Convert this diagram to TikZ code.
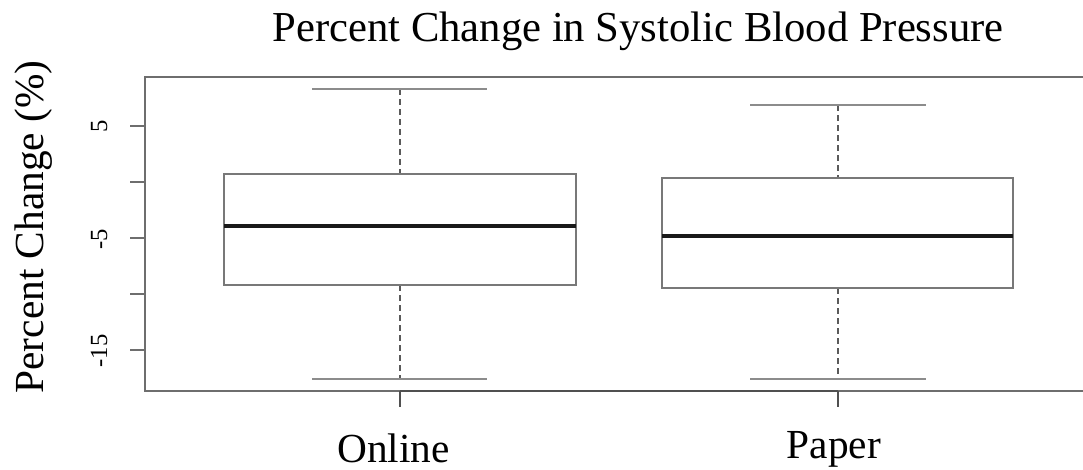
\documentclass[tikz,border=0pt]{standalone}
\usepackage{fontspec}
\setmainfont{Liberation Serif}
\begin{document}
\begin{tikzpicture}[x=0.75pt,y=-0.75pt,
  framel/.style={draw={rgb,255:red,110;green,110;blue,110},line width=1.3pt},
  axisl/.style={draw={rgb,255:red,80;green,80;blue,80},line width=1.3pt},
  capl/.style={draw={rgb,255:red,140;green,140;blue,140},line width=1.8pt},
  boxl/.style={draw={rgb,255:red,120;green,120;blue,120},line width=1.3pt},
  medl/.style={draw={rgb,255:red,25;green,25;blue,25},line width=2.4pt},
  whiskl/.style={draw={rgb,255:red,90;green,90;blue,90},line width=0.8pt,dash pattern=on 4.5pt off 3pt},
  titlefont/.style={font=\fontsize{32}{36}\selectfont,inner sep=0pt},
  labfont/.style={font=\fontsize{31}{35}\selectfont,inner sep=0pt},
  tickfont/.style={font=\fontsize{18.5}{21}\selectfont,inner sep=0pt}
]
\useasboundingbox (0,0) rectangle (1083,469);
\fill[white] (0,0) rectangle (1083,469);

% Title
\node[titlefont,anchor=base] (title) at (638,41) {Percent Change in Systolic Blood Pressure};

% Frame
\draw[framel] (1083,77) -- (145,77) -- (145,391) -- (1083,391);

% Y ticks and labels
\foreach \yy in {126,182,238,294,350}{
  \draw[framel] (130,\yy) -- (145,\yy);
}
\node[tickfont,rotate=90,anchor=base] (t5) at (107,126) {5};
\node[tickfont,rotate=90,anchor=base] (tm5) at (107,239) {-5};
\node[tickfont,rotate=90,anchor=base] (tm15) at (107,351) {-15};

% Y label
\node[labfont,rotate=90,anchor=base] (ylab) at (43,227) {Percent Change (\%)};

% X axis
\draw[axisl] (400,391) -- (838,391);
\draw[axisl] (400,391) -- (400,407);
\draw[axisl] (838,391) -- (838,407);
\node[labfont,anchor=base] (online) at (393.5,462) {Online};
\node[labfont,anchor=base] (paper) at (834,458) {Paper};

% Online box
\draw[whiskl] (400,89) -- (400,174);
\draw[whiskl] (400,285) -- (400,379);
\draw[capl] (312,89) -- (487,89);
\draw[capl] (312,379) -- (487,379);
\draw[boxl] (224,174) rectangle (576,285);
\draw[medl] (224,226) -- (576,226);

% Paper box
\draw[whiskl] (838,105) -- (838,178);
\draw[whiskl] (838,288) -- (838,379);
\draw[capl] (750,105) -- (926,105);
\draw[capl] (750,379) -- (926,379);
\draw[boxl] (662,178) rectangle (1013,288);
\draw[medl] (662,236) -- (1013,236);
\end{tikzpicture}
\end{document}
